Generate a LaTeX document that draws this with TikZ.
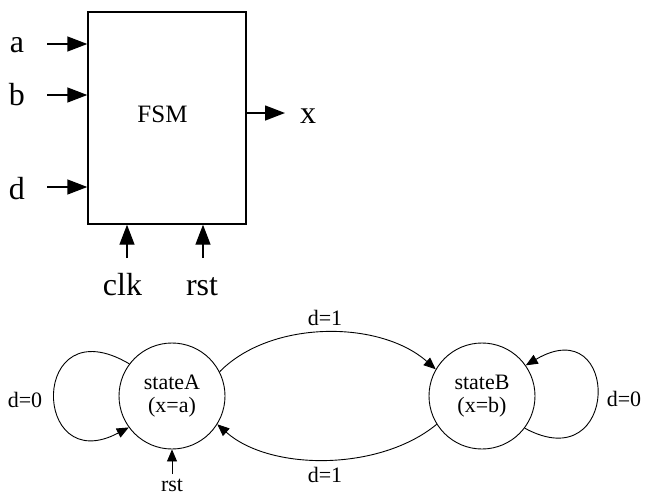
\documentclass[tikz,border=0pt]{standalone}
\usepackage{fontspec}
\setmainfont{Liberation Serif}
\usetikzlibrary{arrows.meta}
\begin{document}
\begin{tikzpicture}[x=1pt,y=-1pt,
  bigarrow/.style={line width=1.4pt,-{Triangle[length=20pt,width=15pt]}},
  smallarrow/.style={line width=0.9pt,-{Triangle[length=12pt,width=10pt]}},
  biglabel/.style={inner sep=0pt,anchor=base,font=\fontsize{32}{36}\selectfont},
  smalllabel/.style={inner sep=0pt,anchor=base,font=\fontsize{22}{23}\selectfont},
  statenode/.style={circle,draw,line width=0.9pt,minimum size=106pt,inner sep=0pt,align=center,font=\fontsize{22}{23}\selectfont}]
\useasboundingbox (0,0) rectangle (645,496);
% FSM block
\node[draw,line width=1.4pt,minimum width=158pt,minimum height=212pt,inner sep=0pt] (fsm) at (167,118) {};
\node[inner sep=0pt,anchor=base,font=\fontsize{25}{28}\selectfont] (fsmlabel) at (162.5,122) {FSM};
% inputs
\coordinate (ain) at (47,44);
\coordinate (bin) at (47,95);
\coordinate (din) at (47,187);
\draw[bigarrow] (ain) -- (ain -| fsm.west);
\draw[bigarrow] (bin) -- (bin -| fsm.west);
\draw[bigarrow] (din) -- (din -| fsm.west);
\node[biglabel] (la) at (17,52) {a};
\node[biglabel] (lb) at (17,105) {b};
\node[biglabel] (ld) at (17,199) {d};
% output
\coordinate (xout) at (285,113);
\draw[bigarrow] (fsm.east |- xout) -- (xout);
\node[biglabel] (lx) at (308,123) {x};
% clk, rst
\coordinate (clkin) at (127,258);
\coordinate (rstin) at (203,258);
\draw[bigarrow] (clkin) -- (clkin |- fsm.south);
\draw[bigarrow] (rstin) -- (rstin |- fsm.south);
\node[biglabel] (lclk) at (122.5,295) {clk};
\node[biglabel] (lrst) at (202,295) {rst};
% state diagram
\node[statenode] (A) at (172,396) {stateA\\(x=a)};
\node[statenode] (B) at (482,396) {stateB\\(x=b)};
\draw[smallarrow] (A.143) .. controls +(-100,-59) and +(-98,52) .. (A.216);
\draw[smallarrow] (B.-37) .. controls +(96,52) and +(95,-56) .. (B.35);
\draw[smallarrow] (A.27) .. controls +(51,-52) and +(-56,-49.5) .. (B.150);
\draw[smallarrow] (B.212) .. controls +(-57,47) and +(53,47) .. (A.-32);
\coordinate (rstA) at (172,474);
\draw[smallarrow] (rstA) -- (A.south);
\node[smalllabel] (l0a) at (25,407) {d=0};
\node[smalllabel] (l0b) at (624,406) {d=0};
\node[smalllabel] (l1a) at (325,325) {d=1};
\node[smalllabel] (l1b) at (325,482) {d=1};
\node[smalllabel] (lrstA) at (172,491) {rst};
\end{tikzpicture}
\end{document}
